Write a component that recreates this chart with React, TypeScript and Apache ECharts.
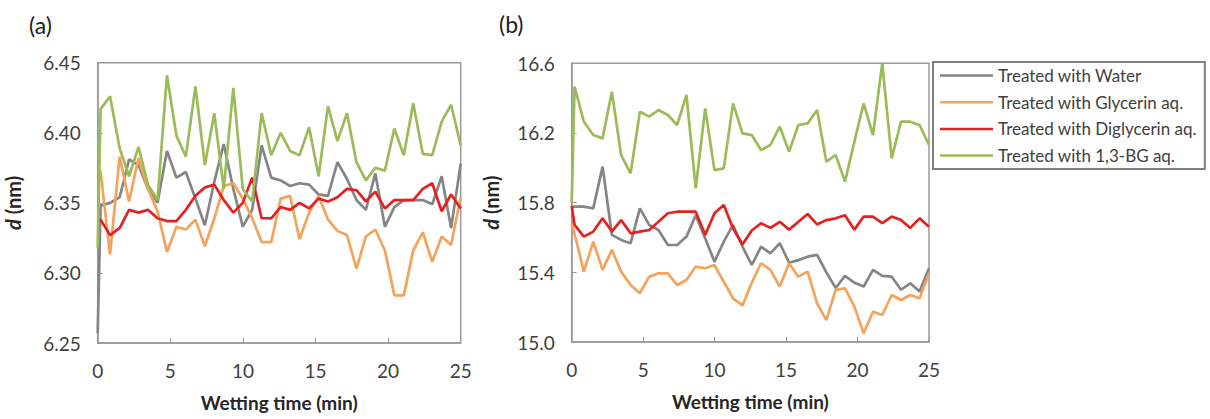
import React, { useEffect, useRef } from "react";
import * as echarts from "echarts";

// Wetting time (min) sampling points
const times = [0, 0.2, 0.85, 1.51, 2.16, 2.81, 3.46, 4.12, 4.77, 5.42, 6.07, 6.73, 7.38, 8.03, 8.68, 9.34, 9.99, 10.64, 11.29, 11.95, 12.6, 13.25, 13.9, 14.56, 15.21, 15.86, 16.51, 17.17, 17.82, 18.47, 19.12, 19.78, 20.43, 21.08, 21.73, 22.39, 23.04, 23.69, 24.34, 25];

const seriesNames = ["Treated with Water", "Treated with Glycerin aq.", "Treated with Diglycerin aq.", "Treated with 1,3-BG aq."];

// Panel (a)
const waterA = [6.257, 6.348, 6.35, 6.354, 6.381, 6.377, 6.36, 6.35, 6.387, 6.368, 6.372, 6.353, 6.334, 6.365, 6.392, 6.36, 6.333, 6.345, 6.391, 6.368, 6.366, 6.362, 6.364, 6.363, 6.356, 6.355, 6.379, 6.367, 6.352, 6.345, 6.371, 6.333, 6.347, 6.352, 6.352, 6.352, 6.349, 6.369, 6.332, 6.378];
const glycerinA = [6.376, 6.372, 6.313, 6.383, 6.351, 6.382, 6.36, 6.344, 6.315, 6.333, 6.331, 6.338, 6.319, 6.339, 6.362, 6.364, 6.353, 6.339, 6.322, 6.322, 6.353, 6.355, 6.324, 6.343, 6.355, 6.338, 6.33, 6.327, 6.303, 6.326, 6.331, 6.316, 6.284, 6.284, 6.316, 6.329, 6.308, 6.326, 6.32, 6.354];
const diglycerinA = [6.337, 6.338, 6.327, 6.332, 6.345, 6.343, 6.345, 6.339, 6.337, 6.337, 6.345, 6.355, 6.361, 6.363, 6.352, 6.343, 6.35, 6.368, 6.339, 6.339, 6.347, 6.345, 6.35, 6.346, 6.353, 6.351, 6.354, 6.36, 6.359, 6.351, 6.358, 6.346, 6.352, 6.352, 6.352, 6.36, 6.364, 6.344, 6.356, 6.346];
const bgA = [6.318, 6.417, 6.426, 6.389, 6.369, 6.39, 6.363, 6.352, 6.441, 6.398, 6.383, 6.433, 6.377, 6.414, 6.36, 6.432, 6.36, 6.351, 6.414, 6.384, 6.4, 6.387, 6.384, 6.404, 6.369, 6.419, 6.394, 6.414, 6.379, 6.366, 6.375, 6.373, 6.403, 6.384, 6.421, 6.385, 6.384, 6.408, 6.42, 6.391];

// Panel (b)
const waterB = [15.777, 15.777, 15.777, 15.767, 16.007, 15.615, 15.586, 15.567, 15.767, 15.672, 15.643, 15.557, 15.557, 15.605, 15.728, 15.595, 15.461, 15.576, 15.672, 15.548, 15.442, 15.547, 15.509, 15.567, 15.455, 15.47, 15.49, 15.5, 15.4, 15.31, 15.38, 15.34, 15.318, 15.414, 15.38, 15.375, 15.3, 15.337, 15.29, 15.423];
const glycerinB = [15.68, 15.62, 15.404, 15.576, 15.414, 15.529, 15.404, 15.327, 15.28, 15.375, 15.394, 15.394, 15.327, 15.356, 15.433, 15.423, 15.442, 15.346, 15.25, 15.21, 15.34, 15.452, 15.414, 15.318, 15.452, 15.375, 15.404, 15.222, 15.126, 15.299, 15.308, 15.203, 15.05, 15.174, 15.155, 15.27, 15.241, 15.27, 15.251, 15.394];
const diglycerinB = [15.78, 15.672, 15.605, 15.634, 15.71, 15.634, 15.7, 15.624, 15.634, 15.643, 15.691, 15.739, 15.748, 15.748, 15.748, 15.615, 15.739, 15.787, 15.653, 15.56, 15.64, 15.682, 15.655, 15.69, 15.645, 15.69, 15.735, 15.675, 15.7, 15.71, 15.728, 15.645, 15.72, 15.72, 15.682, 15.72, 15.7, 15.655, 15.71, 15.662];
const bgB = [15.8, 16.466, 16.265, 16.188, 16.169, 16.437, 16.073, 15.968, 16.322, 16.294, 16.332, 16.303, 16.246, 16.418, 15.882, 16.341, 15.987, 15.997, 16.37, 16.198, 16.188, 16.102, 16.131, 16.236, 16.093, 16.246, 16.255, 16.332, 16.035, 16.074, 15.921, 16.15, 16.37, 16.188, 16.6, 16.054, 16.265, 16.265, 16.246, 16.131];

const colors = ["#858585", "#f5a35c", "#e3211f", "#9bbb59"];
const FONT = "Lato, 'Open Sans', sans-serif";
const AXIS = "#9a9a9a";

export default function App() {
  const ref = useRef<HTMLDivElement>(null);
  useEffect(() => {
    if (!ref.current) return;
    const chart = echarts.init(ref.current, null, { renderer: "svg" });
    const pair = (ys: number[]) => times.map((t, i) => [t, ys[i]]);
    const panels = [
      [waterA, glycerinA, diglycerinA, bgA],
      [waterB, glycerinB, diglycerinB, bgB],
    ];
    const series: any[] = [];
    panels.forEach((p, idx) => {
      p.forEach((ys, j) => {
        series.push({
          type: "line",
          name: seriesNames[j],
          xAxisIndex: idx,
          yAxisIndex: idx,
          data: pair(ys),
          symbol: "none",
          color: colors[j],
          lineStyle: { color: colors[j], width: 2.7 },
          itemStyle: { color: colors[j] },
        });
      });
    });
    const xAxis = (i: number) => ({
      type: "value",
      gridIndex: i,
      min: 0,
      max: 25,
      interval: 5,
      axisLine: { show: true, lineStyle: { color: AXIS, width: 1.5 } },
      axisTick: { show: true, inside: true, length: 5, lineStyle: { color: AXIS, width: 1 } },
      axisLabel: { fontSize: 19, color: "#404040", margin: 18, fontFamily: FONT },
      splitLine: { show: false },
      name: "Wetting time (min)",
      nameLocation: "middle",
      nameGap: 50,
      nameTextStyle: { fontWeight: "bold", fontSize: 19, color: "#262626", fontFamily: FONT },
    });
    const yAxis = (i: number, min: number, max: number, interval: number, digits: number, gap: number) => ({
      type: "value",
      gridIndex: i,
      min,
      max,
      interval,
      axisLine: { show: true, lineStyle: { color: AXIS, width: 1.5 } },
      axisTick: { show: true, inside: true, length: 5, lineStyle: { color: AXIS, width: 1 } },
      axisLabel: {
        fontSize: 19,
        color: "#404040",
        margin: 17,
        fontFamily: FONT,
        formatter: (v: number) => v.toFixed(digits),
      },
      splitLine: { show: false },
      name: "{i|d} (nm)",
      nameLocation: "middle",
      nameRotate: 90,
      nameGap: gap,
      nameTextStyle: {
        fontWeight: "bold",
        fontSize: 20,
        color: "#262626",
        fontFamily: FONT,
        rich: { i: { fontStyle: "italic", fontWeight: "bold", fontSize: 20, color: "#262626", fontFamily: FONT } },
      },
    });
    chart.setOption({
      animation: false,
      backgroundColor: "#ffffff",
      title: [
        { text: "(a)", left: 24, top: 8, textStyle: { fontSize: 23, fontWeight: "normal", color: "#222", fontFamily: FONT } },
        { text: "(b)", left: 494, top: 7, textStyle: { fontSize: 23, fontWeight: "normal", color: "#222", fontFamily: FONT } },
      ],
      legend: {
        data: seriesNames,
        orient: "vertical",
        left: 933,
        top: 62,
        icon: "rect",
        itemWidth: 53,
        itemHeight: 2.5,
        itemGap: 9.7,
        padding: [5, 8, 5, 7],
        borderColor: "#7f7f7f",
        borderWidth: 2,
        backgroundColor: "#ffffff",
        textStyle: { fontSize: 17, lineHeight: 17, color: "#404040", fontFamily: FONT },
      },
      grid: [
        { left: 97.7, top: 62.7, width: 363, height: 280.3, show: true, borderColor: AXIS, borderWidth: 1.5, backgroundColor: "transparent" },
        { left: 571.7, top: 63.3, width: 357.3, height: 278.7, show: true, borderColor: AXIS, borderWidth: 1.5, backgroundColor: "transparent" },
      ],
      xAxis: [xAxis(0), xAxis(1)],
      yAxis: [yAxis(0, 6.25, 6.45, 0.05, 2, 75), yAxis(1, 15.0, 16.6, 0.4, 1, 71)],
      series,
    });
    return () => chart.dispose();
  }, []);
  return <div ref={ref} style={{ position: "absolute", left: 0, top: 0, width: 1210, height: 419 }} />;
}
